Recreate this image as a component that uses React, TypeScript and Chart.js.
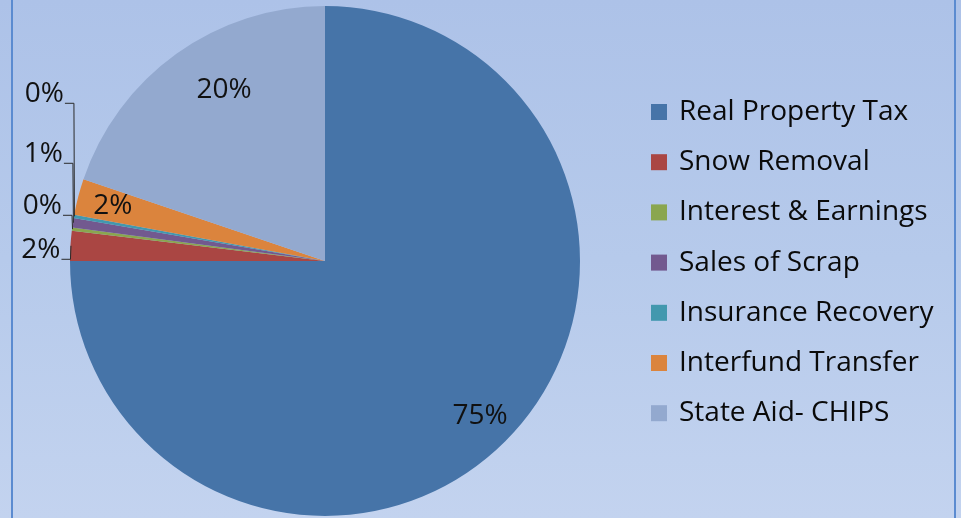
import React, { useEffect, useRef } from "react";
import { Chart, registerables } from "chart.js";

Chart.register(...registerables);

const categories = [
  "Real Property Tax",
  "Snow Removal",
  "Interest & Earnings",
  "Sales of Scrap",
  "Insurance Recovery",
  "Interfund Transfer",
  "State Aid- CHIPS",
];
const shares = [75.0, 1.9, 0.2, 0.6, 0.2, 2.3, 19.8];
const colors = ["#4674a8", "#aa4643", "#8aa64f", "#72598f", "#4298ae", "#db843d", "#93a9cf"];

const FONT = "'Open Sans', Lato, sans-serif";
const FONT_SIZE = 28;

const labelPlugin = {
  id: "pieLabels",
  afterDatasetsDraw(chart: any) {
    const ctx = chart.ctx;
    const meta = chart.getDatasetMeta(0);
    const data = chart.data.datasets[0].data as number[];
    const total = data.reduce((a, b) => a + b, 0);
    ctx.save();
    ctx.font = `${FONT_SIZE}px ${FONT}`;
    ctx.fillStyle = "#111111";
    ctx.strokeStyle = "#2a2a2a";
    ctx.lineWidth = 1;
    ctx.textBaseline = "middle";
    let outsideIdx = 0;
    let baseY = 0;
    meta.data.forEach((arc: any, i: number) => {
      const p = (data[i] / total) * 100;
      const txt = Math.round(p) + "%";
      const { x, y, startAngle, endAngle, outerRadius } = arc.getProps(
        ["x", "y", "startAngle", "endAngle", "outerRadius"],
        true
      );
      const mid = (startAngle + endAngle) / 2;
      if (p >= 2) {
        const big = p > 10 && p < 50;
        const a = big ? mid + 0.09 : mid;
        const r = outerRadius * (big ? 0.78 : 0.86);
        ctx.textAlign = "center";
        ctx.fillText(txt, x + Math.cos(a) * r, y + Math.sin(a) * r);
      } else {
        const ex = x + Math.cos(mid) * outerRadius;
        const ey = y + Math.sin(mid) * outerRadius;
        let ly: number;
        if (outsideIdx === 0) {
          ly = ey + 4;
          baseY = ly;
        } else {
          let off = 0;
          for (let k = 0; k < outsideIdx; k++) off += 44 + 8 * k;
          ly = baseY - off;
        }
        const lx = ex - 8;
        ctx.textAlign = "right";
        ctx.fillText(txt, lx - 2, ly);
        ctx.beginPath();
        ctx.moveTo(lx - 1, ly + 9.5);
        ctx.lineTo(lx + 8, ly + 9.5);
        ctx.lineTo(ex + 0.5, ey);
        ctx.stroke();
        outsideIdx++;
      }
    });
    ctx.restore();
  },
};

const legendPlugin = {
  id: "sideLegend",
  afterDraw(chart: any) {
    const ctx = chart.ctx;
    const labels = chart.data.labels as string[];
    const bg = chart.data.datasets[0].backgroundColor as string[];
    ctx.save();
    ctx.font = `${FONT_SIZE}px ${FONT}`;
    ctx.textBaseline = "middle";
    ctx.textAlign = "left";
    const x0 = chart.chartArea.right + 71;
    const y0 = 112;
    const step = 50.2;
    labels.forEach((lab, i) => {
      const cy = y0 + i * step;
      ctx.fillStyle = bg[i];
      ctx.fillRect(x0, cy - 8, 16, 16);
      ctx.fillStyle = "#0a0a0a";
      ctx.fillText(lab, x0 + 28, cy);
    });
    ctx.restore();
  },
};

export default function App() {
  const ref = useRef<HTMLCanvasElement | null>(null);
  useEffect(() => {
    document.body.style.margin = "0";
    if (!ref.current) return;
    const chart = new Chart(ref.current, {
      type: "pie",
      data: {
        labels: categories,
        datasets: [
          {
            data: shares,
            backgroundColor: colors,
            borderWidth: 0,
          },
        ],
      },
      options: {
        responsive: false,
        animation: false,
        devicePixelRatio: 1,
        layout: { padding: { left: 70, right: 381, top: 6, bottom: 2 } },
        plugins: {
          legend: { display: false },
          tooltip: { enabled: false },
        },
      },
      plugins: [labelPlugin, legendPlugin],
    });
    return () => chart.destroy();
  }, []);
  return (
    <div
      style={{
        position: "relative",
        width: 961,
        height: 518,
        background: "linear-gradient(to bottom, #adc2e8 0%, #b6caeb 50%, #c3d3ef 100%)",
        overflow: "hidden",
      }}
    >
      <div
        style={{
          position: "absolute",
          left: 11,
          top: 0,
          width: 941,
          height: 518,
          borderLeft: "2px solid #5b8bd0",
          borderRight: "2px solid #5b8bd0",
        }}
      />
      <canvas ref={ref} width={961} height={518} style={{ position: "absolute", left: 0, top: 0 }} />
    </div>
  );
}
